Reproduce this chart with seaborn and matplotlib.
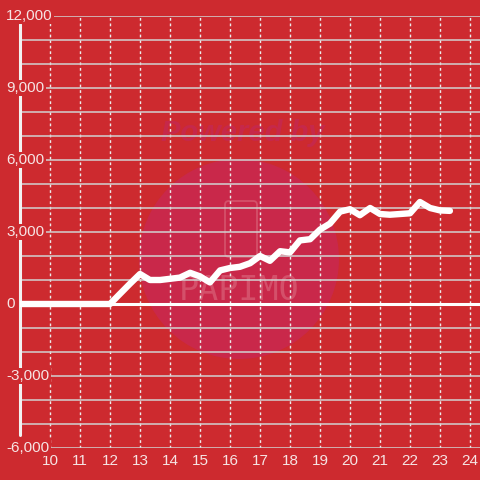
import matplotlib
matplotlib.use("Agg")
import matplotlib.pyplot as plt
import matplotlib.transforms as mtransforms
from matplotlib.patches import Circle, FancyBboxPatch
import seaborn as sns
import pandas as pd

# hour of day vs value
hours = [9.0, 12.0, 12.33, 12.67, 13.0, 13.33, 13.67, 14.0, 14.33, 14.67,
         15.0, 15.33, 15.67, 16.0, 16.33, 16.67, 17.0, 17.33, 17.67, 18.0,
         18.33, 18.67, 19.0, 19.33, 19.67, 20.0, 20.33, 20.67, 21.0, 21.33,
         21.67, 22.0, 22.33, 22.67, 23.0, 23.33]
values = [0, 0, 420, 850, 1250, 1000, 1000, 1050, 1100, 1300,
          1150, 900, 1400, 1500, 1550, 1700, 2000, 1800, 2200, 2150,
          2650, 2700, 3100, 3350, 3850, 3950, 3700, 4000, 3750, 3720,
          3750, 3780, 4250, 4000, 3900, 3880]

x_ticks = list(range(10, 25))
y_grid = list(range(-6000, 12001, 1000))
y_labels = [-6000, -3000, 0, 3000, 6000, 9000, 12000]

bg = "#cd2a2f"
txt = "#f6e4e4"

sns.set_theme(style="white")
plt.rcParams["font.family"] = ["Liberation Sans", "DejaVu Sans"]

fig = plt.figure(figsize=(4.8, 4.8), dpi=100, facecolor=bg)
ax = fig.add_axes([20 / 480, 32 / 480, 460 / 480, 432 / 480])
ax.set_facecolor(bg)

# faint watermark behind the chart (figure-fraction coords, inside the axes)
ax.add_patch(Circle((239 / 480, 1 - 259 / 480), 100 / 480,
                    transform=fig.transFigure, facecolor="#c9284a",
                    edgecolor="none", zorder=0.3, clip_on=False))
ax.text(0.505, 1 - 133 / 480, "Powered by", transform=fig.transFigure,
        ha="center", va="center", fontsize=21, fontweight="bold", style="italic",
        color="#c6284a", zorder=0.4)
ax.add_patch(FancyBboxPatch((225 / 480, 1 - 257 / 480), 32 / 480, 56 / 480,
                            boxstyle="round,pad=0,rounding_size=0.008",
                            transform=fig.transFigure, facecolor="none",
                            edgecolor="#d4506a", lw=1.3, zorder=0.4, clip_on=False))
ax.text(0.498, 1 - 290 / 480, "PAPIMO", transform=fig.transFigure,
        ha="center", va="center", fontsize=24, color="#d4506a", zorder=0.4,
        family="DejaVu Sans Mono")

df = pd.DataFrame({"hour": hours, "value": values})

ax.set_xlim(9.0, 24.333)
ax.set_ylim(-6000, 12000)
ax.set_xticks(x_ticks)
ax.set_yticks(y_grid)
ax.set_yticklabels([])
ax.set_axisbelow("line")
ax.grid(axis="y", color="#d2d2d2", lw=1.1, ls="-")
ax.grid(axis="x", color="#ececec", lw=1.0, ls=(0, (2, 2)))
for s in ax.spines.values():
    s.set_visible(False)
ax.tick_params(axis="both", length=0)
ax.tick_params(axis="x", colors=txt, labelsize=11, pad=4)

# left axis line and zero line
ax.axvline(9.0, ymin=0.03, ymax=0.981, color="#f2f2f2", lw=2.2, clip_on=False, zorder=2)
ax.axhline(0, color="white", lw=2.2, zorder=2)

sns.lineplot(data=df, x="hour", y="value", color="white", linewidth=4.6,
             ax=ax, zorder=5)
ax.set_xlabel("")
ax.set_ylabel("")

trans = mtransforms.blended_transform_factory(fig.transFigure, ax.transData)
for v in y_labels:
    ax.text(6 / 480, v, f"{v:,}", transform=trans, ha="left", va="center",
            fontsize=11, color=txt, clip_on=False, zorder=4,
            bbox=dict(facecolor=bg, edgecolor="none", pad=1.0))

fig.savefig("out.png", dpi=100, facecolor=bg)
